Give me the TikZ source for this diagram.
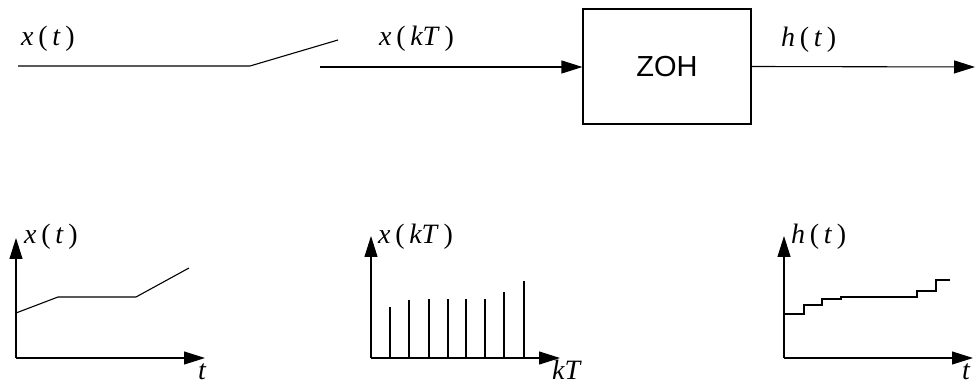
\documentclass[tikz,border=0pt]{standalone}
\usepackage{fontspec}
\setmainfont{Liberation Serif}
\newfontfamily\boxfont{Liberation Sans}
\usetikzlibrary{arrows.meta}
\newcommand{\sig}[2]{\textit{#1}\,(\,\textit{#2}\,)}
\begin{document}
\begin{tikzpicture}[x=1pt,y=-1pt,
  wire/.style={line width=1.1pt},
  arr/.style={line width=1.1pt,-{Triangle[length=21pt,width=13pt]}},
  lab/.style={inner sep=0pt,anchor=base west,font=\fontsize{28}{32}\selectfont},
  blk/.style={draw,line width=1.1pt,minimum width=168pt,minimum height=115pt,inner sep=0pt,font=\boxfont\fontsize{29}{34}\selectfont}]
\useasboundingbox (0,0) rectangle (975,387);
% top chain
\coordinate (in) at (18,66);
\coordinate (sw) at (250,66);
\coordinate (swe) at (338,40);
\coordinate (s2) at (320,67);
\node[blk] (zoh) at (667,66.5) {ZOH};
\coordinate (out) at (975,67);
\draw[wire] (in) -- (sw) -- (swe);
\draw[arr] (s2) -- (s2 -| zoh.west);
\draw[arr] (zoh.east) -- (out);
\node[lab] (l1) at (21,46) {\sig{x}{t}};
\node[lab] (l2) at (379,46) {\sig{x}{kT}};
\node[lab] (l3) at (781,47) {\sig{h}{t}};
% plot 1
\coordinate (o1) at (16,358);
\coordinate (y1) at (16,238);
\coordinate (x1) at (205,358);
\draw[arr] (o1) -- (y1);
\draw[arr] (o1) -- (x1);
\draw[wire] (16,313) -- (58,297) -- (136,297) -- (189,268);
\node[lab] (p1y) at (24,244) {\sig{x}{t}};
\node[lab] (p1x) at (198,380) {\textit{t}};
% plot 2
\coordinate (o2) at (371,358);
\coordinate (y2) at (371,236);
\coordinate (x2) at (560,358);
\draw[arr] (o2) -- (y2);
\draw[arr] (o2) -- (x2);
\foreach \px/\py in {390/307,409/300,429/299,448/299,466/299,485/299,504/292,524/281}
  \draw[wire] (\px,358) -- (\px,\py);
\node[lab] (p2y) at (378,244) {\sig{x}{kT}};
\node[lab] (p2x) at (552,380) {\textit{kT}};
% plot 3
\coordinate (o3) at (784,358);
\coordinate (y3) at (784,236);
\coordinate (x3) at (973,358);
\draw[arr] (o3) -- (y3);
\draw[arr] (o3) -- (x3);
\draw[wire] (784,314) -- (804,314) -- (804,305) -- (822,305) -- (822,299) -- (841,299) -- (841,297) -- (917,297) -- (917,291) -- (936,291) -- (936,280) -- (950,280);
\node[lab] (p3y) at (791,244) {\sig{h}{t}};
\node[lab] (p3x) at (962,380) {\textit{t}};
\end{tikzpicture}
\end{document}
